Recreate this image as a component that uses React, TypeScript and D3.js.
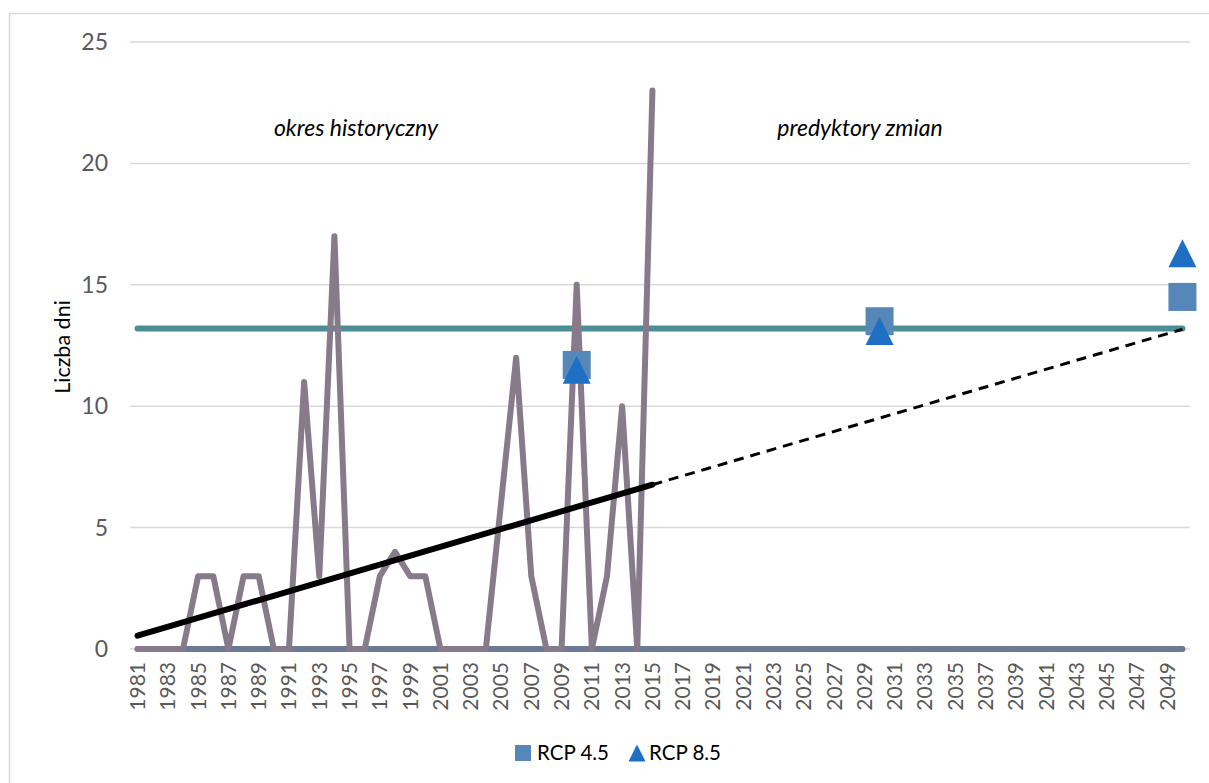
import React from "react";
import * as d3 from "d3";

const years: number[] = d3.range(1981, 2051);
const histYears: number[] = d3.range(1981, 2016);
const histValues: number[] = [
  0, 0, 0, 0, 3, 3, 0, 3, 3, 0,
  0, 11, 3, 17, 0, 0, 3, 4, 3, 3,
  0, 0, 0, 0, 6, 12, 3, 0, 0, 15,
  0, 3, 10, 0, 23,
];
const thresholdValue = 13.2;
const zeroValue = 0;
const rcp45Years = [2010, 2030, 2050];
const rcp45Values = [11.7, 13.5, 14.5];
const rcp85Years = [2010, 2030, 2050];
const rcp85Values = [11.5, 13.1, 16.3];
const yTicks = [0, 5, 10, 15, 20, 25];
const xTickYears = years.filter((y) => (y - 1981) % 2 === 0);

const W = 1209;
const H = 783;
const FONT = "Lato, 'Open Sans', sans-serif";

export default function App() {
  const x = d3.scalePoint<number>().domain(years).range([130, 1190]).padding(0.5);
  const y = d3.scaleLinear().domain([0, 25]).range([649, 42]);
  const X = (yr: number) => x(yr) as number;

  // linear trend (least squares) from historical values
  const mx = d3.mean(histYears) as number;
  const my = d3.mean(histValues) as number;
  const sxy = d3.sum(histYears.map((yr, i) => (yr - mx) * (histValues[i] - my)));
  const sxx = d3.sum(histYears.map((yr) => (yr - mx) * (yr - mx)));
  const slope = sxy / sxx;
  const trend = (yr: number) => my + slope * (yr - mx);

  const line = d3
    .line<[number, number]>()
    .x((d) => X(d[0]))
    .y((d) => y(d[1]));

  const histPath = line(histYears.map((yr, i) => [yr, histValues[i]]));
  const zeroPath = line(years.map((yr) => [yr, zeroValue]));
  const threshPath = line(years.map((yr) => [yr, thresholdValue]));
  const trendSolid = line([[1981, trend(1981)], [2015, trend(2015)]]);
  const trendDashed = line([[2015, trend(2015)], [2050, trend(2050)]]);

  const sq = 28;
  const tri = (cx: number, cy: number, s: number) =>
    `M${cx},${cy - s / 2}L${cx + s / 2},${cy + s / 2}L${cx - s / 2},${cy + s / 2}Z`;

  return (
    <svg
      width={W}
      height={H}
      style={{ position: "absolute", left: 0, top: 0, background: "#fff" }}
      fontFamily={FONT}
    >
      <rect x={9.5} y={13.5} width={1220} height={800} fill="#fff" stroke="#d9d9d9" strokeWidth={1.5} />
      {/* gridlines */}
      {yTicks.map((t) => (
        <line key={t} x1={130} x2={1190} y1={y(t)} y2={y(t)} stroke="#d9d9d9" strokeWidth={1.5} />
      ))}
      {/* y tick labels */}
      {yTicks.map((t) => (
        <text key={"yt" + t} x={108} y={y(t)} dy="0.35em" textAnchor="end" fontSize={23} fill="#595959">
          {t}
        </text>
      ))}
      {/* x tick labels */}
      {xTickYears.map((yr) => (
        <text
          key={"xt" + yr}
          transform={`translate(${X(yr)},662) rotate(-90)`}
          dy="0.35em"
          textAnchor="end"
          fontSize={21}
          fill="#595959"
        >
          {yr}
        </text>
      ))}
      {/* y axis title */}
      <text transform="translate(62,347) rotate(-90)" dy="0.35em" textAnchor="middle" fontSize={21.5} fill="#000">
        Liczba dni
      </text>
      {/* region labels */}
      <text x={356} y={128} dy="0.35em" textAnchor="middle" fontSize={23} fontStyle="italic" fill="#000">
        okres historyczny
      </text>
      <text x={860} y={128} dy="0.35em" textAnchor="middle" fontSize={23} fontStyle="italic" fill="#000">
        predyktory zmian
      </text>
      {/* series */}
      <path d={zeroPath || ""} fill="none" stroke="#6c7a95" strokeWidth={6} strokeLinecap="round" />
      <path d={threshPath || ""} fill="none" stroke="#4c8e98" strokeWidth={6} strokeLinecap="round" />
      <path
        d={histPath || ""}
        fill="none"
        stroke="#877b8b"
        strokeWidth={6}
        strokeLinejoin="round"
        strokeLinecap="round"
      />
      <path d={trendSolid || ""} fill="none" stroke="#000" strokeWidth={6} strokeLinecap="round" />
      <path d={trendDashed || ""} fill="none" stroke="#000" strokeWidth={3} strokeDasharray="10,7" />
      {/* markers */}
      {rcp45Years.map((yr, i) => (
        <rect
          key={"s" + yr}
          x={X(yr) - sq / 2}
          y={y(rcp45Values[i]) - sq / 2}
          width={sq}
          height={sq}
          fill="#5587b9"
        />
      ))}
      {rcp85Years.map((yr, i) => (
        <path key={"t" + yr} d={tri(X(yr), y(rcp85Values[i]), sq)} fill="#1f6fc4" />
      ))}
      {/* legend */}
      <rect x={515} y={745} width={16} height={16} fill="#5587b9" />
      <text x={537} y={753} dy="0.35em" fontSize={20.5} fill="#000">
        RCP 4.5
      </text>
      <path d={tri(637, 753, 17)} fill="#1f6fc4" />
      <text x={649} y={753} dy="0.35em" fontSize={20.5} fill="#000">
        RCP 8.5
      </text>
    </svg>
  );
}
